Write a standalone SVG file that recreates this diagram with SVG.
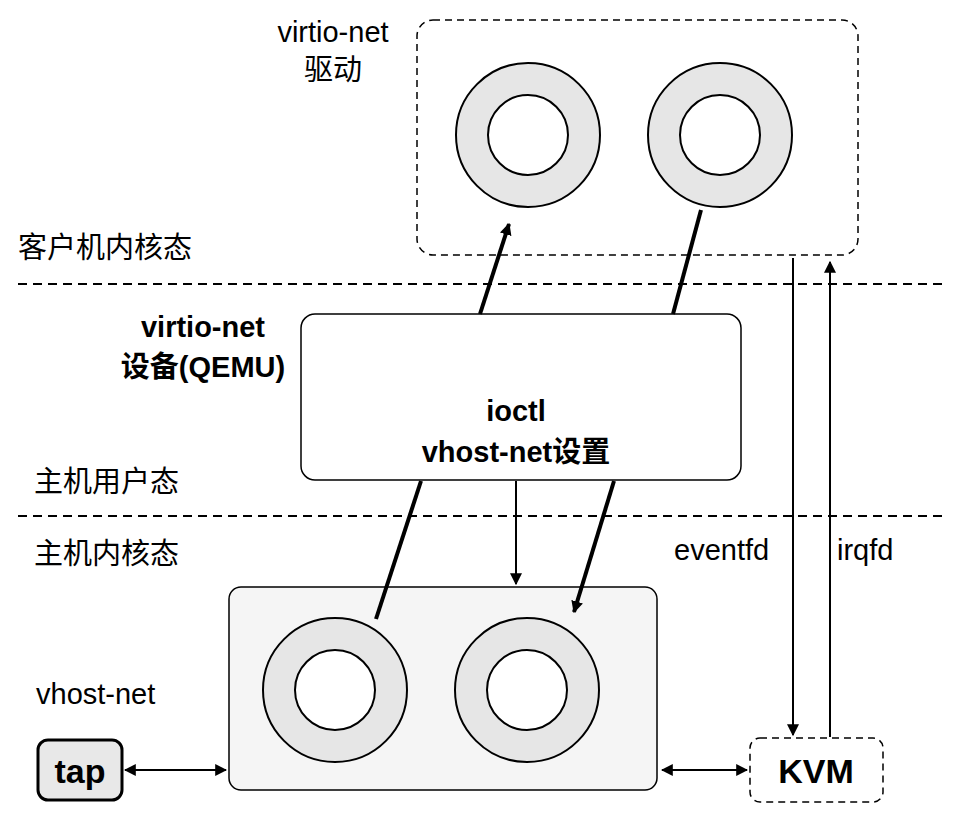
<svg xmlns="http://www.w3.org/2000/svg" width="957" height="823" viewBox="0 0 957 823">
<style>
text{font-family:"Liberation Sans","Noto Sans CJK SC",sans-serif;font-size:29px;fill:#000}
.b{font-weight:bold}
.big{font-size:34px;font-weight:bold}
.ring{fill:#e6e6e6;stroke:#000;stroke-width:2}
.hole{fill:#fff;stroke:#000;stroke-width:2}
.thick{stroke:#000;stroke-width:4;fill:none}
.thin{stroke:#000;stroke-width:2;fill:none}
</style>
<defs>
<marker id="s" viewBox="0 0 10 10" refX="9" refY="5" markerWidth="12" markerHeight="12" orient="auto-start-reverse" markerUnits="userSpaceOnUse"><path d="M0,0L10,5L0,10z"/></marker>
</defs>
<g id="guest">
<rect x="417" y="20" width="441" height="235" rx="16" fill="#fff" stroke="#000" stroke-width="1.5" stroke-dasharray="7,5"/>
<circle class="ring" cx="528" cy="135" r="72"/><circle class="hole" cx="528" cy="135" r="40"/>
<circle class="ring" cx="720" cy="135" r="72"/><circle class="hole" cx="720" cy="135" r="40"/>
<text x="333" y="42" text-anchor="middle">virtio-net</text>
<text x="333" y="80" text-anchor="middle">驱动</text>
</g>
<g id="layers">
<line x1="18" y1="284" x2="945" y2="284" class="thin" stroke-dasharray="9,6"/>
<line x1="18" y1="516" x2="945" y2="516" class="thin" stroke-dasharray="9,6"/>
<text x="18" y="258">客户机内核态</text>
<text x="34" y="492">主机用户态</text>
<text x="34" y="564">主机内核态</text>
</g>
<g id="qemu">
<rect x="301" y="314" width="440" height="166" rx="14" fill="#fff" stroke="#000" stroke-width="1.5"/>
<text x="203" y="337" text-anchor="middle" class="b">virtio-net</text>
<text x="203" y="377" text-anchor="middle" class="b">设备(QEMU)</text>
<text x="516" y="421" text-anchor="middle" class="b">ioctl</text>
<text x="516" y="462" text-anchor="middle" class="b">vhost-net设置</text>
</g>
<g id="vhost">
<rect x="229" y="587" width="428" height="203" rx="12" fill="#f5f5f5" stroke="#000" stroke-width="1.5"/>
<circle class="ring" cx="335" cy="690" r="72"/><circle class="hole" cx="335" cy="690" r="40"/>
<circle class="ring" cx="527" cy="690" r="72"/><circle class="hole" cx="527" cy="690" r="40"/>
<text x="36" y="704">vhost-net</text>
</g>
<g id="tap">
<rect x="38" y="740" width="84" height="60" rx="10" fill="#e8e8e8" stroke="#000" stroke-width="3"/>
<text x="80" y="783" text-anchor="middle" class="big">tap</text>
</g>
<g id="kvm">
<rect x="750" y="738" width="133" height="64" rx="10" fill="#fff" stroke="#000" stroke-width="1.5" stroke-dasharray="7,5"/>
<text x="816" y="783" text-anchor="middle" class="big">KVM</text>
</g>
<g id="connectors">
<line x1="480" y1="314" x2="509" y2="224" class="thick" marker-end="url(#s)"/>
<line x1="673" y1="314" x2="701" y2="210" class="thick"/>
<line x1="421" y1="481" x2="376" y2="619" class="thick"/>
<line x1="614" y1="481" x2="574" y2="612" class="thick" marker-end="url(#s)"/>
<line x1="516" y1="481" x2="516" y2="584" class="thin" marker-end="url(#s)"/>
<line x1="793" y1="258" x2="793" y2="735" class="thin" marker-end="url(#s)"/>
<line x1="830" y1="737" x2="830" y2="262" class="thin" marker-end="url(#s)"/>
<line x1="125" y1="770" x2="226" y2="770" class="thin" marker-start="url(#s)" marker-end="url(#s)"/>
<line x1="662" y1="770" x2="747" y2="770" class="thin" marker-start="url(#s)" marker-end="url(#s)"/>
<text x="674" y="560">eventfd</text>
<text x="837" y="560">irqfd</text>
</g>
</svg>
